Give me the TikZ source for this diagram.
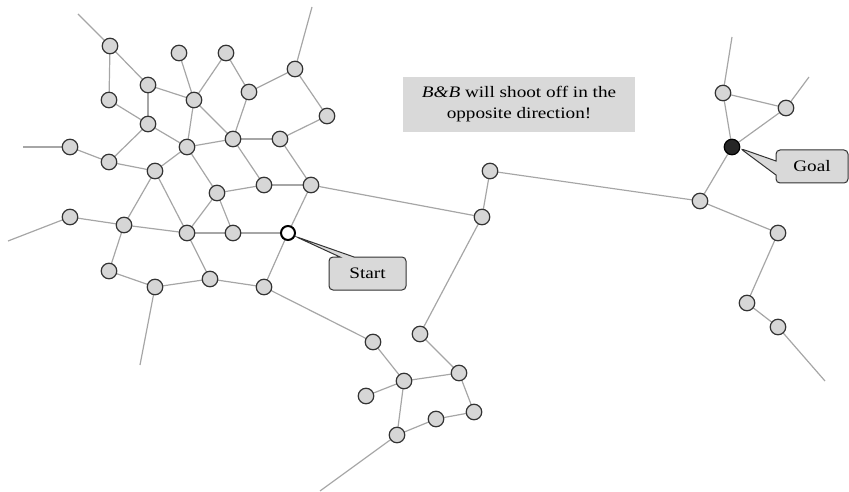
\documentclass[tikz,border=0pt]{standalone}
\usepackage{fontspec}
\newfontfamily\labfont[FakeStretch=1.2]{Liberation Serif}
\usetikzlibrary{shapes.callouts}
\definecolor{nodefill}{HTML}{D6D6D6}
\definecolor{edgecol}{HTML}{A6A6A6}
\definecolor{rimcol}{HTML}{333333}
\definecolor{boxfill}{HTML}{D9D9D9}
\tikzset{
  vtx/.style={circle,draw=rimcol,fill=nodefill,line width=1.2pt,minimum size=15.5pt,inner sep=0pt},
  startvtx/.style={circle,draw=black,fill=white,line width=2pt,minimum size=14pt,inner sep=0pt},
  goalvtx/.style={circle,draw=black,fill=black!85,line width=1.2pt,minimum size=15.5pt,inner sep=0pt},
  edge/.style={draw=edgecol,line width=1.2pt},
  callbox/.style={rectangle callout,draw=rimcol,fill=boxfill,line width=1pt,rounded corners=4pt,
    font=\labfont\fontsize{16}{19}\selectfont,callout pointer width=14pt},
  notebox/.style={rectangle,fill=boxfill,minimum width=232pt,minimum height=55pt,align=center,
    font=\labfont\fontsize{16}{21}\selectfont}
}
\begin{document}
\begin{tikzpicture}[x=1pt,y=-1pt]
\useasboundingbox (0,0) rectangle (849,492);
% free ends
\coordinate (e1) at (78,14);
\coordinate (e2) at (312,7);
\coordinate (e3) at (23,147);
\coordinate (e4) at (8,241);
\coordinate (e5) at (140,365);
\coordinate (e6) at (320,491);
\coordinate (e7) at (732,37);
\coordinate (e8) at (809,77);
\coordinate (e9) at (825,381);
% node positions
\coordinate (c1) at (110,46);
\coordinate (c2) at (179,53);
\coordinate (c3) at (226,53);
\coordinate (c4) at (295,69);
\coordinate (c5) at (148,85);
\coordinate (c6) at (109,100);
\coordinate (c7) at (194,100);
\coordinate (c8) at (249,92);
\coordinate (c9) at (327,116);
\coordinate (c10) at (148,124);
\coordinate (c11) at (70,147);
\coordinate (c12) at (233,139);
\coordinate (c13) at (280,139);
\coordinate (c14) at (187,147);
\coordinate (c15) at (109,162);
\coordinate (c16) at (155,171);
\coordinate (c17) at (217,193);
\coordinate (c18) at (264,185);
\coordinate (c19) at (311,185);
\coordinate (c20) at (70,217);
\coordinate (c21) at (124,225);
\coordinate (c22) at (187,233);
\coordinate (c23) at (233,233);
\coordinate (cstart) at (288,233);
\coordinate (c24) at (109,271);
\coordinate (c25) at (155,287);
\coordinate (c26) at (210,279);
\coordinate (c27) at (264,287);
\coordinate (cm1) at (490,171);
\coordinate (cm2) at (482,217);
\coordinate (cp1) at (373,342);
\coordinate (cp2) at (420,334);
\coordinate (cp3) at (404,381);
\coordinate (cp4) at (459,373);
\coordinate (cp5) at (366,396);
\coordinate (cp6) at (474,412);
\coordinate (cp7) at (436,419);
\coordinate (cp8) at (397,435);
\coordinate (cg1) at (723,93);
\coordinate (cg2) at (786,108);
\coordinate (cgoal) at (732,147);
\coordinate (cg3) at (700,201);
\coordinate (cg4) at (778,233);
\coordinate (cg5) at (747,303);
\coordinate (cg6) at (778,327);
% edges
\foreach \a/\b in {c1/e1,c4/e2,c11/e3,c20/e4,c25/e5,cp8/e6,cg1/e7,cg2/e8,cg6/e9,
  c1/c6,c1/c5,c5/c10,c5/c7,c6/c10,c2/c7,c3/c7,c3/c8,c7/c14,c7/c12,c8/c12,c8/c4,c4/c9,c9/c13,
  c10/c14,c10/c15,c11/c15,c15/c16,c14/c16,c12/c14,c12/c13,c12/c18,c13/c19,c14/c17,c17/c18,c18/c19,
  c19/cm2,c20/c21,c21/c22,c21/c16,c21/c24,c22/c16,c22/c17,c22/c23,c17/c23,c23/cstart,cstart/c19,
  cstart/c27,c22/c26,c24/c25,c25/c26,c26/c27,c27/cp1,cp1/cp3,cp2/cp4,cp2/cm2,cp3/cp4,cp3/cp5,
  cp3/cp8,cp4/cp6,cp6/cp7,cp7/cp8,cm1/cm2,cm1/cg3,cg1/cg2,cg1/cgoal,cg2/cgoal,cgoal/cg3,cg3/cg4,
  cg4/cg5,cg5/cg6}
  \draw[edge] (\a) -- (\b);
% vertices
\foreach \c in {c1,c2,c3,c4,c5,c6,c7,c8,c9,c10,c11,c12,c13,c14,c15,c16,c17,c18,c19,c20,c21,c22,c23,
  c24,c25,c26,c27,cm1,cm2,cp1,cp2,cp3,cp4,cp5,cp6,cp7,cp8,cg1,cg2,cg3,cg4,cg5,cg6}
  \node[vtx] (v\c) at (\c) {};
\node[startvtx] (start) at (cstart) {};
\node[goalvtx] (goal) at (cgoal) {};
% callouts
\node[callbox,minimum width=77pt,minimum height=33pt,callout absolute pointer={(start.-25)}]
  (startlab) at (367.5,273.5) {Start};
\node[callbox,minimum width=72pt,minimum height=33pt,callout absolute pointer={(goal.-10)}]
  (goallab) at (812,166.5) {Goal};
\node[notebox] (note) at (519,104.5) {\textit{B\&B} will shoot off in the\\opposite direction!};
\end{tikzpicture}
\end{document}
